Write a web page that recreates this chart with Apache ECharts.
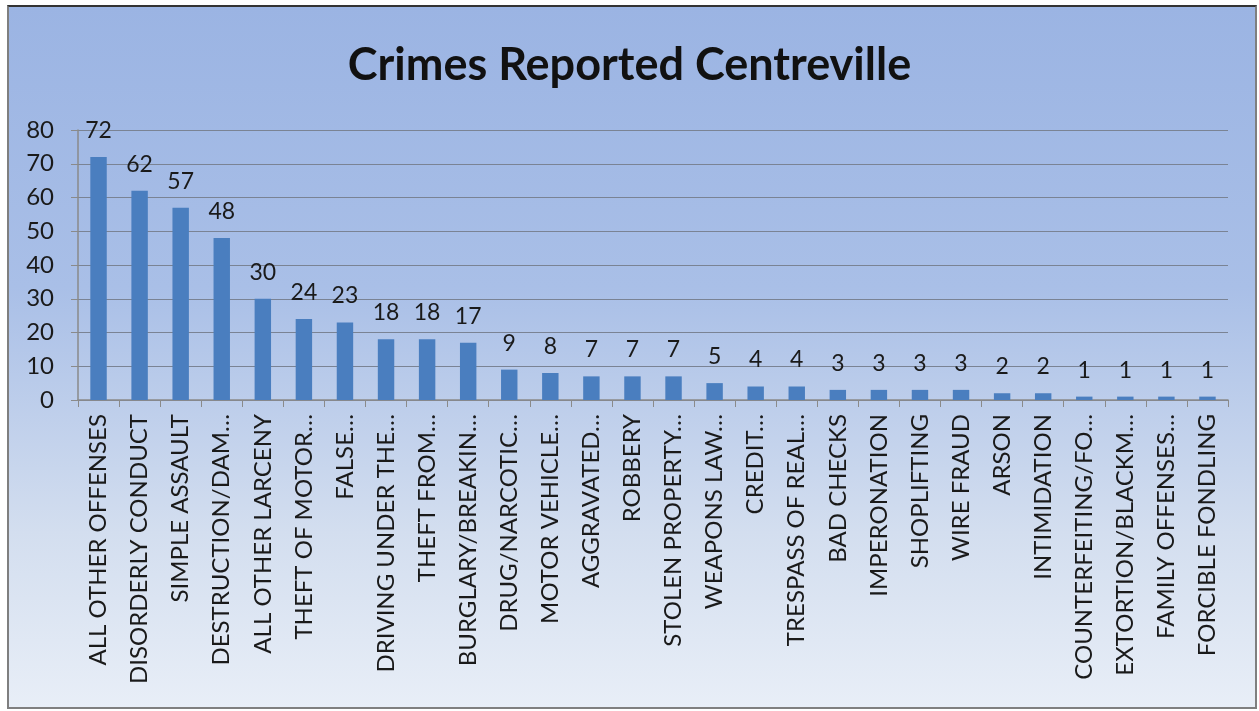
<!DOCTYPE html>
<html>
<head>
<meta charset="utf-8">
<script src="https://cdn.jsdelivr.net/npm/echarts@6/dist/echarts.min.js"></script>
<style>
  html, body { margin: 0; padding: 0; background: #ffffff; width: 1259px; height: 711px; overflow: hidden; }
  #panel { position: absolute; left: 7px; top: 5px; width: 1246px; height: 700px;
    border: 2px solid #7f7f7f; border-top-color: #333;
    background: linear-gradient(to bottom, #9bb4e3 0%, #a9bfe7 40%, #d3deef 75%, #e8eef7 100%); }
  #chart { position: absolute; left: 0; top: 0; width: 1259px; height: 711px; }
</style>
</head>
<body>
<div id="panel"></div>
<div id="chart"></div>
<script>
const chartTitle = "Crimes Reported Centreville";
const categories = [
  "ALL OTHER OFFENSES", "DISORDERLY CONDUCT", "SIMPLE ASSAULT", "DESTRUCTION/DAM…",
  "ALL OTHER LARCENY", "THEFT OF MOTOR…", "FALSE…", "DRIVING UNDER THE…",
  "THEFT FROM…", "BURGLARY/BREAKIN…", "DRUG/NARCOTIC…", "MOTOR VEHICLE…",
  "AGGRAVATED…", "ROBBERY", "STOLEN PROPERTY…", "WEAPONS LAW…",
  "CREDIT…", "TRESPASS OF REAL…", "BAD CHECKS", "IMPERONATION",
  "SHOPLIFTING", "WIRE FRAUD", "ARSON", "INTIMIDATION",
  "COUNTERFEITING/FO…", "EXTORTION/BLACKM…", "FAMILY OFFENSES…", "FORCIBLE FONDLING"
];
const counts = [72, 62, 57, 48, 30, 24, 23, 18, 18, 17, 9, 8, 7, 7, 7, 5, 4, 4, 3, 3, 3, 3, 2, 2, 1, 1, 1, 1];
const yMin = 0, yMax = 80, yStep = 10;

const chart = echarts.init(document.getElementById('chart'));
chart.setOption({
  backgroundColor: 'transparent',
  animation: false,
  title: {
    text: chartTitle,
    left: 'center',
    top: 38,
    textStyle: { fontFamily: 'Lato', fontWeight: 'bold', fontSize: 45, color: '#111' }
  },
  grid: { left: 78, right: 31, top: 130, bottom: 311, containLabel: false },
  xAxis: {
    type: 'category',
    data: categories,
    axisLine: { lineStyle: { color: '#8a8a8a', width: 1.5 } },
    axisTick: { show: true, alignWithLabel: false, length: 7, lineStyle: { color: '#8a8a8a' } },
    axisLabel: { rotate: 90, interval: 0, margin: 14, fontFamily: 'Lato', fontSize: 24, color: '#1a1a1a' }
  },
  yAxis: {
    type: 'value',
    min: yMin, max: yMax, interval: yStep,
    axisLine: { show: true, lineStyle: { color: '#8a8a8a', width: 1.5 } },
    axisTick: { show: true, length: 7, lineStyle: { color: '#8a8a8a' } },
    axisLabel: { margin: 24, fontFamily: 'Lato', fontSize: 24, color: '#1a1a1a' },
    splitLine: { show: true, lineStyle: { color: '#7a8394', width: 1.2 } }
  },
  series: [{
    type: 'bar',
    data: counts,
    barWidth: '40%',
    itemStyle: { color: '#4a7ebf' },
    label: { show: true, position: 'top', distance: 15, fontFamily: 'Lato', fontSize: 23, color: '#1a1a1a' }
  }]
});
</script>
</body>
</html>
